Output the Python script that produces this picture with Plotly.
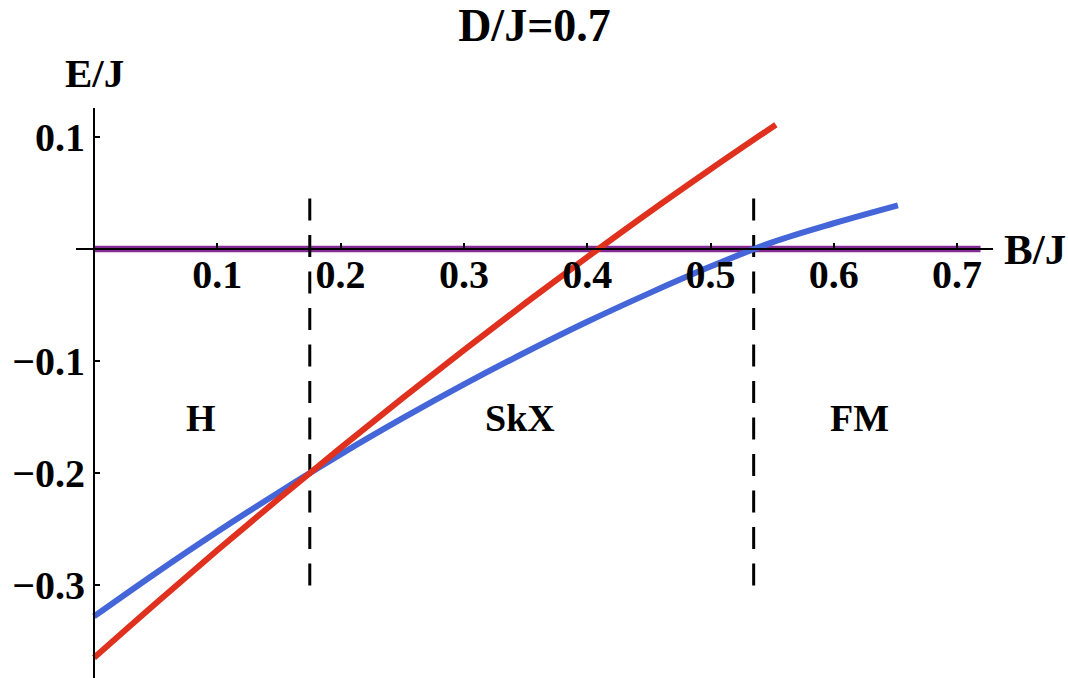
import plotly.graph_objects as go

# ---- data ----
B_red = [0.0, 0.05, 0.10, 0.15, 0.20, 0.25, 0.30, 0.35, 0.40, 0.45, 0.50, 0.553]
E_red = [-0.365, -0.3165, -0.269, -0.2227, -0.1775, -0.1333, -0.0902, -0.0482, -0.0073, 0.0326, 0.0712, 0.111]

B_blue = [0.0, 0.05, 0.10, 0.15, 0.20, 0.25, 0.30, 0.35, 0.40, 0.45, 0.50, 0.55, 0.60, 0.652]
E_blue = [-0.328, -0.2894, -0.2524, -0.2171, -0.1833, -0.1513, -0.1209, -0.0922, -0.065, -0.0396, -0.0157, 0.006, 0.023, 0.039]

B_purple = [0.0, 0.719]
E_purple = [0.0, 0.0]

B_boundaries = [0.175, 0.535]
E_dash_span = [0.045, -0.303]

x_ticks = [0.1, 0.2, 0.3, 0.4, 0.5, 0.6, 0.7]
x_ticktext = ["0.1", "0.2", "0.3", "0.4", "0.5", "0.6", "0.7"]
y_ticks = [-0.3, -0.2, -0.1, 0.1]
y_ticktext = ["\u22120.3", "\u22120.2", "\u22120.1", "0.1"]

region_labels = ["H", "SkX", "FM"]
region_x = [0.087, 0.3455, 0.621]
region_y = [-0.151, -0.151, -0.151]

title_text = "D/J=0.7"
x_label = "B/J"
y_label = "E/J"

x_range = [-0.0146, 0.7291]
y_range = [-0.3830, 0.1259]

FONT = "Liberation Serif"

fig = go.Figure()
fig.add_trace(go.Scatter(x=B_purple, y=E_purple, mode="lines",
                         line=dict(color="#862C96", width=6.5), showlegend=False, hoverinfo="skip"))
for xb in B_boundaries:
    fig.add_trace(go.Scatter(x=[xb, xb], y=E_dash_span, mode="lines",
                             line=dict(color="black", width=3, dash="22px,14.5px"),
                             showlegend=False, hoverinfo="skip"))
fig.add_trace(go.Scatter(x=B_blue, y=E_blue, mode="lines", line_shape="spline",
                         line=dict(color="#4466D8", width=6), showlegend=False))
fig.add_trace(go.Scatter(x=B_red, y=E_red, mode="lines", line_shape="spline",
                         line=dict(color="#E0301E", width=6), showlegend=False))

ypos = (0 - y_range[0]) / (y_range[1] - y_range[0])
xpos = (0 - x_range[0]) / (x_range[1] - x_range[0])

fig.update_layout(
    width=1068, height=678,
    margin=dict(l=76, r=75, t=108, b=0),
    plot_bgcolor="white", paper_bgcolor="white",
    font=dict(family=FONT, color="black", size=40, weight="bold"),
    title=dict(text=title_text, x=0.5, xref="paper", xanchor="center",
               y=1 - 25 / 678, yref="container", yanchor="middle",
               font=dict(family=FONT, size=46, weight="bold")),
    xaxis=dict(range=x_range, showgrid=False, zeroline=False, showline=True,
               linecolor="black", linewidth=2, anchor="free", position=ypos,
               ticks="inside", ticklen=5, tickwidth=1.5, tickcolor="black",
               tickvals=x_ticks, ticktext=x_ticktext, ticklabelstandoff=-10,
               tickfont=dict(family=FONT, size=40, weight="bold")),
    yaxis=dict(range=y_range, showgrid=False, zeroline=False, showline=True,
               linecolor="black", linewidth=2, anchor="free", position=xpos,
               ticks="inside", ticklen=5, tickwidth=1.5, tickcolor="black",
               tickvals=y_ticks, ticktext=y_ticktext,
               tickfont=dict(family=FONT, size=40, weight="bold")),
)

for t, xv, yv in zip(region_labels, region_x, region_y):
    fig.add_annotation(x=xv, y=yv, xref="x", yref="y", text=t, showarrow=False,
                       font=dict(family=FONT, size=38, weight="bold"),
                       xanchor="center", yanchor="middle")

fig.add_annotation(x=1 + (1035 - 993) / 917, y=0, xref="paper", yref="y", text=x_label,
                   showarrow=False, font=dict(family=FONT, size=43, weight="bold"),
                   xanchor="center", yanchor="middle")
fig.add_annotation(x=0, y=1 + 35 / 570, xref="x", yref="paper", text=y_label,
                   showarrow=False, font=dict(family=FONT, size=41, weight="bold"),
                   xanchor="center", yanchor="middle")

fig.write_html("out.html")
